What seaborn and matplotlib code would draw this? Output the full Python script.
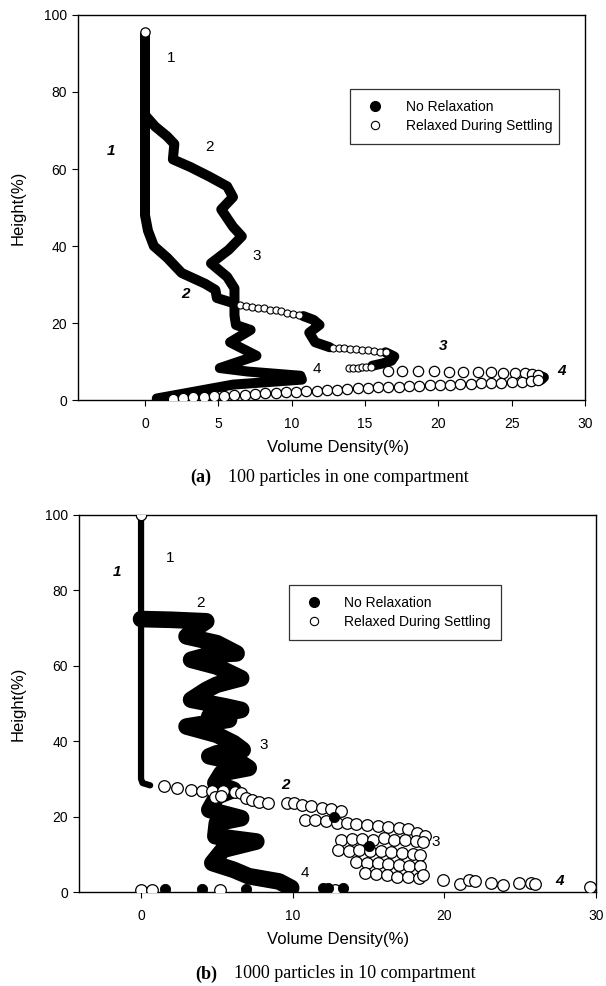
import numpy as np
import matplotlib
matplotlib.use("Agg")
import matplotlib.pyplot as plt
from matplotlib.lines import Line2D
import seaborn as sns

sns.set_style("ticks")
plt.rcParams['font.family'] = ['Liberation Sans', 'DejaVu Sans']
plt.rcParams['text.color'] = 'black'
plt.rcParams['axes.labelcolor'] = 'black'
plt.rcParams['xtick.color'] = 'black'
plt.rcParams['ytick.color'] = 'black'

# %% data, panel (a): 100 particles in one compartment
a_c1_x = [0, 0, 0.2, 0.6, 1.5, 2.5, 4.1, 4.8, 4.9, 6.0]
a_c1_y = [95, 48, 44, 40, 37, 33, 30.2, 28.6, 26.5, 25.2]
a_hook1_x = [10.8, 11.5, 11.9, 11.2, 11.6, 12.6]
a_hook1_y = [21.8, 20.8, 19.5, 17.5, 15.0, 13.7]
a_hook2_x = [16.4, 17.0, 16.8, 16.2, 15.5]
a_hook2_y = [12.4, 11.3, 10.2, 9.5, 8.9]
a_end_x = [26.8, 27.2, 27.0]
a_end_y = [6.5, 5.9, 5.2]
a_c2_x = [0, 0.7, 1.5, 2.0, 1.9, 3.1, 4.4, 5.6, 6.0, 5.2, 6.0, 6.6, 5.7, 4.5, 5.6, 6.1,
          6.1, 6.2, 7.2, 5.8, 7.6, 5.1, 7.0, 10.6, 10.7, 6.0, 0.8]
a_c2_y = [74, 71, 68.5, 66.5, 62.5, 60.5, 58, 55.5, 52.7, 49.5, 45, 42.5, 39, 35.5, 32, 29,
          22, 19.5, 18.2, 15, 11.5, 8.3, 7.4, 6.3, 5.3, 4.0, 0.4]
a_top_x = [0]
a_top_y = [95.5]
a_row1_x = [6.5, 6.9, 7.3, 7.7, 8.1, 8.5, 8.9, 9.3, 9.7, 10.1, 10.5]
a_row1_y = [24.6, 24.4, 24.2, 24.0, 23.8, 23.5, 23.3, 23.0, 22.7, 22.4, 22.1]
a_row2_x = [12.8, 13.2, 13.6, 14.0, 14.4, 14.8, 15.2, 15.6, 16.0, 16.4,
            13.9, 14.2, 14.5, 14.8, 15.1, 15.4]
a_row2_y = [13.6, 13.5, 13.4, 13.3, 13.2, 13.1, 12.9, 12.8, 12.6, 12.4,
            8.2, 8.3, 8.4, 8.5, 8.6, 8.6]
a_row3_x = [16.6, 17.5, 18.6, 19.7, 20.7, 21.7, 22.7, 23.6, 24.4, 25.2, 25.9, 26.4, 26.8]
a_row3_y = [7.6, 7.6, 7.5, 7.5, 7.4, 7.4, 7.3, 7.2, 7.1, 7.0, 6.9, 6.7, 6.5]
a_bot_x = [1.9, 2.6, 3.3, 4.0, 4.7, 5.4, 6.1, 6.8, 7.5, 8.2, 8.9, 9.6, 10.3, 11.0, 11.7, 12.4,
           13.1, 13.8, 14.5, 15.2, 15.9, 16.6, 17.3, 18.0, 18.7, 19.4, 20.1, 20.8, 21.5, 22.2,
           22.9, 23.6, 24.3, 25.0, 25.7, 26.3, 26.8]
a_bot_y = [0.3, 0.5, 0.7, 0.8, 1.0, 1.1, 1.3, 1.4, 1.6, 1.7, 1.8, 2.0, 2.1, 2.3, 2.4, 2.6,
           2.7, 2.9, 3.0, 3.1, 3.3, 3.4, 3.5, 3.6, 3.7, 3.8, 3.9, 4.0, 4.1, 4.2,
           4.3, 4.4, 4.5, 4.6, 4.7, 4.9, 5.1]
a_lab_x = [1.75, 4.4, 7.6, 11.7]
a_lab_y = [88.7, 65.7, 37.5, 8.0]
a_ilab_x = [-2.3, 2.75, 20.3, 28.4]
a_ilab_y = [64.8, 27.5, 14.0, 7.5]
a_ilab_t = ['1', '2', '3', '4']

# %% data, panel (b): 1000 particles in 10 compartment
b_c1_x = [0, 0, 0.1, 0.6]
b_c1_y = [100, 30, 28.9, 28.3]
b_band_x = [0, 2.0, 4.3, 4.0, 3.0, 5.0, 6.3, 4.5, 3.3, 5.0, 6.6, 5.0, 4.3, 3.3, 5.6, 6.6, 4.5,
            5.8, 3.0, 5.0, 6.1, 6.7, 5.0, 4.5, 6.6, 7.1, 5.3, 4.9, 6.1, 5.0, 4.5, 6.6, 5.0,
            4.9, 7.6, 5.4, 4.7, 6.1, 7.1, 9.1, 9.9]
b_band_y = [72.4, 72.2, 71.8, 71.0, 67.8, 66.0, 63.3, 62.9, 61.6, 59.8, 56.7, 55.0, 53.6,
            51.0, 49.2, 48.3, 46.6, 45.7, 43.9, 41.7, 39.5, 37.7, 36.8, 36.0, 34.2, 32.9,
            31.5, 28.9, 27.1, 25.4, 21.8, 19.6, 18.3, 14.8, 13.4, 11.2, 7.7, 5.9, 4.2, 2.8, 1.1]
b_top_x = [0]
b_top_y = [100]
b_open_x = [1.5, 2.4, 3.3, 4.0, 4.7, 5.4, 6.2, 6.6, 6.9, 7.3, 7.8, 8.4, 9.6, 10.1, 10.6, 11.2,
            11.9, 12.5, 13.2, 4.9, 5.3,
            10.8, 11.5, 12.2, 12.9, 13.6, 14.2, 14.9, 15.6, 16.3, 17.0, 17.6, 18.2, 18.7,
            13.2, 13.9, 14.6, 15.3, 16.0, 16.7, 17.4, 18.1, 18.6,
            13.0, 13.7, 14.4, 15.1, 15.8, 16.5, 17.2, 17.9, 18.4,
            14.2, 14.9, 15.6, 16.3, 17.0, 17.7, 18.4,
            14.8, 15.5, 16.2, 16.9, 17.6, 18.3, 18.6,
            19.9, 21.0, 21.6, 22.0, 23.1, 23.9, 24.9, 25.7, 26.0, 29.6,
            0.0, 0.7, 5.2, 12.8]
b_open_y = [28.0, 27.6, 27.1, 26.8, 26.7, 26.7, 26.6, 26.2, 25.0, 24.3, 24.0, 23.6, 23.6,
            23.5, 23.2, 22.8, 22.3, 21.9, 21.4, 25.2, 25.5,
            19.2, 19.0, 18.8, 18.4, 18.2, 18.0, 17.8, 17.5, 17.3, 17.1, 16.6, 15.7, 14.8,
            13.9, 14.0, 14.0, 13.9, 14.2, 13.9, 13.7, 13.5, 13.3,
            11.2, 11.0, 11.1, 11.0, 10.8, 10.6, 10.3, 10.1, 9.9,
            7.9, 7.8, 7.7, 7.5, 7.3, 7.0, 6.8,
            5.0, 4.7, 4.4, 4.1, 3.9, 3.7, 4.6,
            3.3, 2.0, 3.2, 2.9, 2.5, 1.9, 2.3, 2.3, 2.2, 1.4,
            0.5, 0.6, 0.6, 0.6]
b_fill_x = [1.6, 4.0, 6.9, 12.0, 12.3, 13.3, 12.7, 15.0]
b_fill_y = [0.8, 0.9, 0.9, 1.2, 1.1, 1.2, 19.8, 12.2]
b_lab_x = [1.9, 3.9, 8.1, 10.8, 19.4]
b_lab_y = [88.5, 76.6, 39.0, 5.0, 13.3]
b_lab_t = ['1', '2', '3', '4', '3']
b_ilab_x = [-1.6, 9.5, 27.6]
b_ilab_y = [85.0, 28.4, 2.8]
b_ilab_t = ['1', '2', '4']

legend_labels = ['No Relaxation', 'Relaxed During Settling']


# %% helpers
def band(ax, xs, ys, lw):
    sns.lineplot(x=xs, y=ys, sort=False, estimator=None, color='black', lw=lw, ax=ax,
                 solid_capstyle='round', solid_joinstyle='round', zorder=2)


def circles(ax, xs, ys, s, lw=0.9):
    sns.scatterplot(x=xs, y=ys, s=s, color='white', edgecolor='black', linewidth=lw,
                    ax=ax, zorder=3)


def dress(ax, xlim, xticks, legend_box, xlab_x):
    ax.set_xlim(*xlim)
    ax.set_ylim(0, 100)
    ax.set_xticks(xticks)
    ax.set_yticks(range(0, 101, 20))
    ax.tick_params(direction='out', length=4, width=0.8, labelsize=10)
    ax.tick_params(axis='x', pad=8)
    ax.tick_params(axis='y', pad=4)
    for sp in ax.spines.values():
        sp.set_visible(True)
        sp.set_linewidth(1.0)
        sp.set_color('black')
    ax.set_xlabel('Volume Density(%)', fontsize=12)
    ax.set_ylabel('Height(%)', fontsize=12)
    ax.xaxis.set_label_coords(xlab_x, -0.105)
    ax.yaxis.set_label_coords(-0.104, 0.5)
    handles = [Line2D([], [], ls='none', marker='o', ms=7, mfc='black', mec='black'),
               Line2D([], [], ls='none', marker='o', ms=6, mfc='white', mec='black', mew=0.8)]
    leg = ax.legend(handles, legend_labels, loc='upper left', bbox_to_anchor=legend_box,
                    mode='expand', fontsize=10, frameon=True, fancybox=False,
                    borderpad=0.8, labelspacing=0.35, handletextpad=1.2, borderaxespad=0)
    leg.get_frame().set_edgecolor('black')
    leg.get_frame().set_linewidth(0.9)


# %% figure
fig = plt.figure(figsize=(6.06, 9.86), dpi=100)
ax1 = fig.add_axes([0.1287, 0.5943, 0.8366, 0.3905])
ax2 = fig.add_axes([0.1304, 0.0953, 0.8531, 0.3824])

# panel (a)
band(ax1, a_c1_x, a_c1_y, 7.2)
band(ax1, a_c2_x, a_c2_y, 7.2)
band(ax1, a_hook1_x, a_hook1_y, 7.2)
band(ax1, a_hook2_x, a_hook2_y, 7.2)
band(ax1, a_end_x, a_end_y, 7.2)
circles(ax1, a_row1_x, a_row1_y, 26, 0.8)
circles(ax1, a_row2_x, a_row2_y, 26, 0.8)
circles(ax1, a_row3_x, a_row3_y, 55)
circles(ax1, a_bot_x, a_bot_y, 55)
circles(ax1, a_top_x, a_top_y, 45)
for x, y, t in zip(a_lab_x, a_lab_y, ['1', '2', '3', '4']):
    ax1.text(x, y, t, fontsize=11, ha='center', va='center')
for x, y, t in zip(a_ilab_x, a_ilab_y, a_ilab_t):
    ax1.text(x, y, t, fontsize=11, ha='center', va='center', style='italic', weight='bold')
dress(ax1, (-4.57, 30), range(0, 31, 5), (0.537, 0.809, 0.411, 0.0), 0.513)

# panel (b)
band(ax2, b_c1_x, b_c1_y, 4.5)
band(ax2, b_band_x, b_band_y, 12)
circles(ax2, b_open_x, b_open_y, 70)
sns.scatterplot(x=b_fill_x, y=b_fill_y, s=55, color='black', edgecolor='black', ax=ax2, zorder=4)
circles(ax2, b_top_x, b_top_y, 55)
for x, y, t in zip(b_lab_x, b_lab_y, b_lab_t):
    ax2.text(x, y, t, fontsize=11, ha='center', va='center')
for x, y, t in zip(b_ilab_x, b_ilab_y, b_ilab_t):
    ax2.text(x, y, t, fontsize=11, ha='center', va='center', style='italic', weight='bold')
dress(ax2, (-4.09, 30), range(0, 31, 10), (0.406, 0.814, 0.411, 0.0), 0.501)

# captions
cap = ['Liberation Serif', 'DejaVu Serif']
fig.text(190 / 606, 1 - 477 / 986, '(a)', family=cap, weight='bold', fontsize=13, va='center')
fig.text(228 / 606, 1 - 477 / 986, '100 particles in one compartment', family=cap,
         fontsize=13, va='center')
fig.text(195 / 606, 1 - 974 / 986, '(b)', family=cap, weight='bold', fontsize=13, va='center')
fig.text(234 / 606, 1 - 974 / 986, '1000 particles in 10 compartment', family=cap,
         fontsize=13, va='center')

fig.savefig('out.png', dpi=100)
